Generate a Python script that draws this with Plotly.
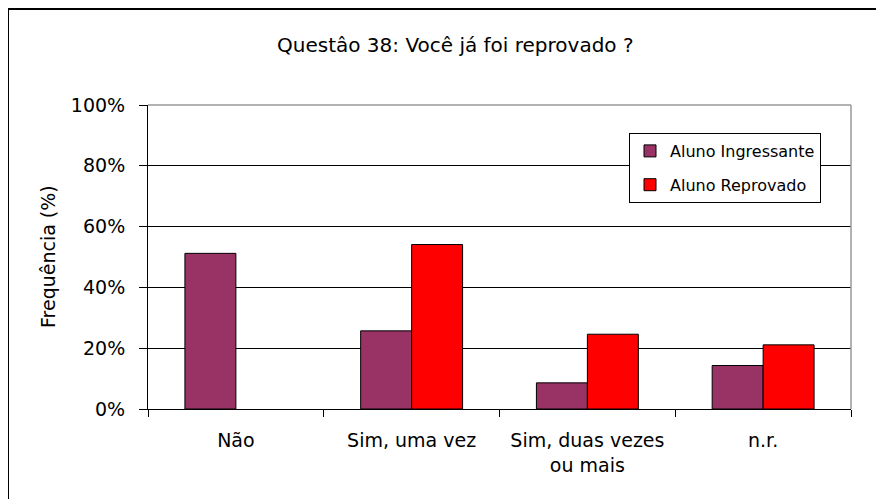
import plotly.graph_objects as go

categorias = ["Não", "Sim, uma vez", "Sim, duas vezes<br>ou mais", "n.r."]
aluno_ingressante = [51.2, 25.7, 8.6, 14.3]
aluno_reprovado = [None, 54.1, 24.6, 21.1]
y_ticks = [0, 20, 40, 60, 80, 100]
y_tick_labels = ["0%", "20%", "40%", "60%", "80%", "100%"]

FONT = "DejaVu Sans"

fig = go.Figure()
fig.add_trace(go.Bar(
    x=categorias, y=aluno_ingressante, name="Aluno Ingressante",
    marker=dict(color="#993366", line=dict(color="black", width=1)),
    legendgroup="a",
))
fig.add_trace(go.Bar(
    x=categorias, y=aluno_reprovado, name="Aluno Reprovado",
    marker=dict(color="#FF0000", line=dict(color="black", width=1)),
    legendgroup="b",
))

OFF = 8  # browser body margin
W, H = 884, 499
# target plot area in screenshot pixels
X0, X1, Y0, Y1 = 148, 851, 105, 409
L = X0 - OFF
T = Y0 - OFF
R = W - (X1 - OFF)
B = H - (Y1 - OFF)
pw, ph = X1 - X0, Y1 - Y0

def px(x):
    return (x - X0) / pw

def py(y):
    return (Y1 - y) / ph

fig.update_layout(
    width=W, height=H,
    margin=dict(l=L, r=R, t=T, b=B),
    paper_bgcolor="white", plot_bgcolor="white",
    font=dict(family=FONT, color="black", size=18),
    barmode="group", bargap=0.42, bargroupgap=0,
    showlegend=True,
    legend=dict(
        x=px(629), y=py(133), xanchor="left", yanchor="top",
        bordercolor="black", borderwidth=1, bgcolor="white",
        font=dict(size=16, family=FONT),
        tracegroupgap=10, traceorder="grouped",
    ),
    xaxis=dict(
        type="category", tickson="boundaries", ticks="outside", ticklen=7,
        tickcolor="black", showline=True, linecolor="black", linewidth=1,
        showgrid=False, tickfont=dict(size=19, family=FONT),
        ticklabelstandoff=14, fixedrange=True,
    ),
    yaxis=dict(
        range=[0, 100], tickvals=y_ticks, ticktext=y_tick_labels,
        ticks="outside", ticklen=8, tickcolor="black",
        showline=True, linecolor="black", linewidth=1,
        showgrid=True, gridcolor="black", gridwidth=1,
        tickfont=dict(size=19, family=FONT), ticklabelstandoff=10,
        zeroline=False, fixedrange=True,
    ),
    annotations=[
        dict(text="Questâo 38: Você já foi reprovado ?", xref="paper", yref="paper",
             x=px(455), y=py(45), xanchor="center", yanchor="middle",
             showarrow=False, font=dict(size=20, family=FONT)),
        dict(text="Frequência (%)", xref="paper", yref="paper",
             x=px(48), y=py(257), xanchor="center", yanchor="middle",
             textangle=-90, showarrow=False, font=dict(size=19, family=FONT)),
    ],
    shapes=[
        dict(type="line", xref="paper", yref="paper", x0=0, x1=1, y0=1, y1=1,
             line=dict(color="#999999", width=1.5), layer="above"),
        dict(type="line", xref="paper", yref="paper", x0=1, x1=1, y0=0, y1=1,
             line=dict(color="#999999", width=1.5), layer="above"),
        dict(type="rect", xref="paper", yref="paper",
             x0=px(8), x1=px(920), y0=py(9), y1=py(540),
             line=dict(color="black", width=2), layer="above"),
    ],
)

fig.write_html("out.html")
